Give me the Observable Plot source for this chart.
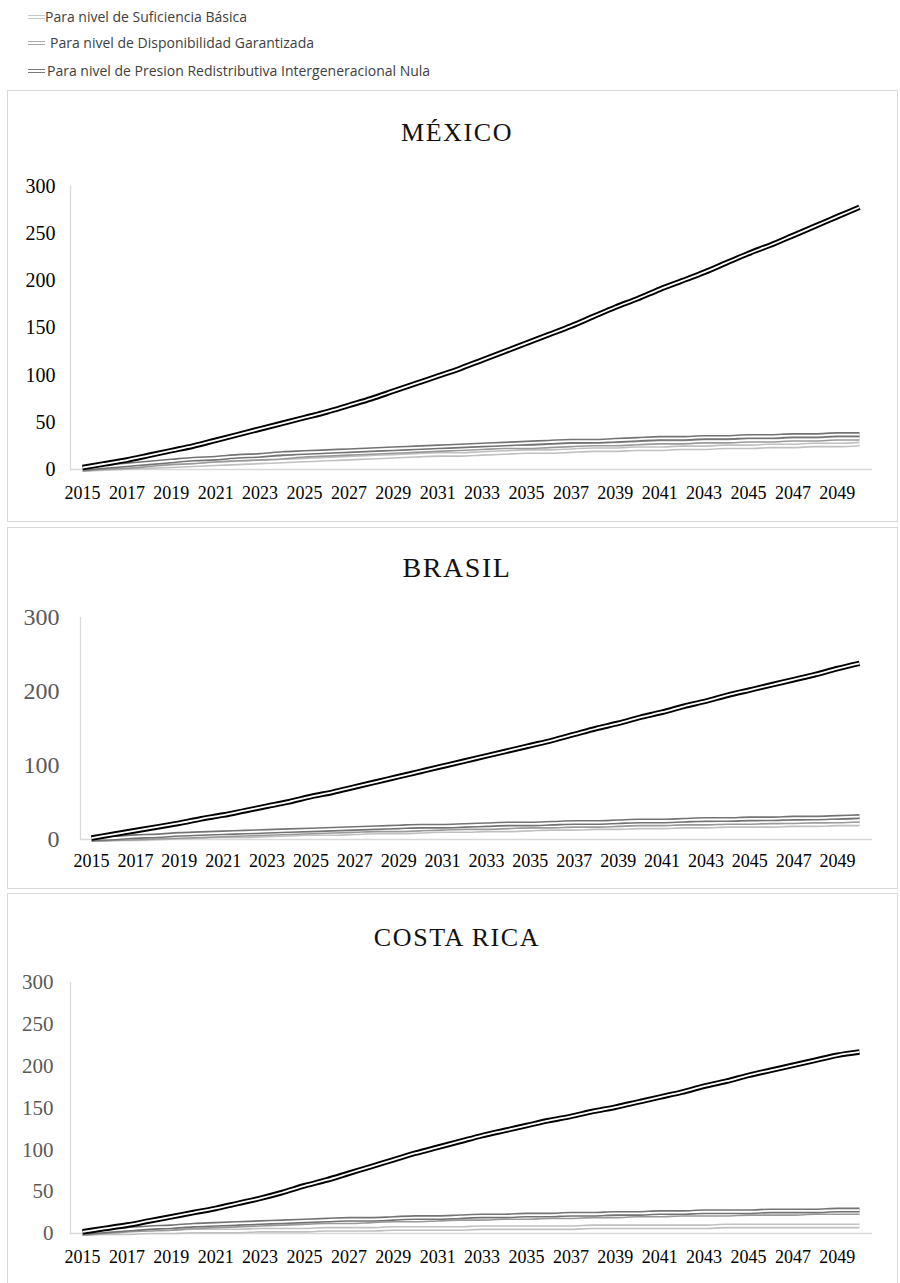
<!DOCTYPE html>
<html><head><meta charset="utf-8">
<script src="https://cdn.jsdelivr.net/npm/d3@7"></script>
<script src="https://cdn.jsdelivr.net/npm/@observablehq/plot@0.6"></script>
<style>
body{margin:0;background:#fff;}
#page{position:relative;width:900px;height:1283px;overflow:hidden;background:#fff;}
.box{position:absolute;border:1.5px solid #d9d9d9;box-sizing:border-box;}
.title{position:absolute;left:0;width:914px;text-align:center;font-family:"Liberation Serif",serif;color:#111;line-height:1;white-space:nowrap;}
.leg{position:absolute;font-family:"Open Sans",sans-serif;font-size:14px;color:#404040;white-space:nowrap;line-height:16px;}
.sw{position:absolute;width:17px;height:1.6px;background:#fff;}
.plot{position:absolute;left:0;}
</style>
</head><body>
<div id="page"></div>
<script>
// ---- data ----
const years = [2015,2016,2017,2018,2019,2020,2021,2022,2023,2024,2025,2026,2027,2028,2029,2030,2031,2032,2033,2034,2035,2036,2037,2038,2039,2040,2041,2042,2043,2044,2045,2046,2047,2048,2049,2050];
const xTickLabels = [2015,2017,2019,2021,2023,2025,2027,2029,2031,2033,2035,2037,2039,2041,2043,2045,2047,2049];
const countries = ["MÉXICO","BRASIL","COSTA RICA"];
const legendNames = ["Para nivel de Suficiencia Básica","Para nivel de Disponibilidad Garantizada","Para nivel de Presion Redistributiva Intergeneracional Nula"];
const yTicksMX = [0,50,100,150,200,250,300];
const yTicksBR = [0,100,200,300];
const yTicksCR = [0,50,100,150,200,250,300];

// México
const mxBasica   = [0,1,2,3,4,5,6,7,8,9,10,11,12,13,14,15,16,16,17,18,19,19,20,21,21,22,22,23,23,24,24,25,25,26,26,27];
const mxGarant   = [0,2,3,5,7,8,10,11,12,13,15,16,17,18,19,20,21,22,23,24,24,25,26,27,27,28,29,29,30,30,31,31,32,32,33,33];
const mxPresion  = [1,3,5,7,9,11,12,14,15,17,18,19,20,21,22,23,24,25,26,27,28,29,30,30,31,32,33,33,34,34,35,35,36,36,37,37];
const mxTotal    = [2,6,10,15,20,25,31,37,43,49,55,61,68,75,83,91,99,107,116,125,134,143,152,162,172,181,191,200,209,219,229,238,248,258,268,278];
// Brasil
const brBasica   = [0,1,1,2,3,4,5,5,6,7,8,8,9,10,10,11,12,12,13,13,14,15,15,16,16,17,17,18,18,19,19,19,20,20,21,21];
const brGarant   = [0,1,2,3,4,5,6,7,8,9,10,11,12,13,13,14,15,16,16,17,18,18,19,19,20,21,21,22,22,23,23,24,24,25,25,26];
const brPresion  = [1,2,4,5,7,8,9,10,11,12,13,14,15,16,17,18,18,19,20,21,21,22,23,23,24,25,25,26,27,27,28,28,29,29,30,31];
const brTotal    = [2,7,12,17,22,28,33,39,45,51,58,64,71,78,85,92,99,106,113,120,127,134,142,150,157,165,172,180,187,195,202,209,216,223,231,238];
// Costa Rica
const crBasica   = [0,1,1,2,2,3,3,3,4,4,4,5,5,5,6,6,6,6,7,7,7,7,7,8,8,8,8,8,8,9,9,9,9,9,9,9];
const crGarant   = [0,2,4,5,6,8,9,10,11,12,13,14,14,15,16,16,17,18,18,19,19,20,20,21,21,22,22,23,23,23,24,24,24,25,25,25];
const crPresion  = [1,3,5,7,8,10,11,12,13,14,15,16,17,17,18,19,19,20,21,21,22,22,23,23,24,24,25,25,26,26,26,27,27,27,28,28];
const crTotal    = [2,6,10,15,20,25,30,36,42,49,57,64,72,80,88,96,103,110,117,123,129,135,140,146,151,157,163,169,176,182,189,195,201,207,213,217];

const seriesColors = ["#c0c0c0","#9a9a9a","#737373","#000000"];
const legendColors = ["#c8c8c8","#a8a8a8","#7a7a7a"];

// ---- layout ----
const page = document.getElementById("page");

// legend
const legTop = [9, 35, 63];
const legTextX = [45, 50, 47];
legendNames.forEach((name, i) => {
  const sw = document.createElement("div");
  sw.className = "sw";
  sw.style.left = "28px";
  sw.style.top = (legTop[i] + 6) + "px";
  sw.style.borderTop = "1.6px solid " + legendColors[i];
  sw.style.borderBottom = "1.6px solid " + legendColors[i];
  page.appendChild(sw);
  const t = document.createElement("div");
  t.className = "leg";
  t.style.left = legTextX[i] + "px";
  t.style.top = legTop[i] + "px";
  t.textContent = name;
  page.appendChild(t);
});

const panels = [
  {name: countries[0], data: [mxBasica, mxGarant, mxPresion, mxTotal], box: [7, 90, 891, 432],
   svgTop: 90, height: 432, mt: 96, mb: 53, ml: 70, il: 12, yTicks: yTicksMX, yFont: 20, yPad: 15, yColor: "#000", xPad: 17,
   titleTop: 120, titleSize: 26},
  {name: countries[1], data: [brBasica, brGarant, brPresion, brTotal], box: [7, 527, 891, 362],
   svgTop: 527, height: 362, mt: 90, mb: 50, ml: 80, il: 11, yTicks: yTicksBR, yFont: 24, yPad: 21, yColor: "#595959", xPad: 15,
   titleTop: 554, titleSize: 28},
  {name: countries[2], data: [crBasica, crGarant, crPresion, crTotal], box: [7, 893, 891, 400],
   svgTop: 893, height: 390, mt: 89, mb: 50, ml: 70, il: 12, yTicks: yTicksCR, yFont: 21, yPad: 17, yColor: "#595959", xPad: 17,
   titleTop: 925, titleSize: 26}
];

panels.forEach(p => {
  const box = document.createElement("div");
  box.className = "box";
  box.style.left = p.box[0] + "px";
  box.style.top = p.box[1] + "px";
  box.style.width = p.box[2] + "px";
  box.style.height = p.box[3] + "px";
  page.appendChild(box);

  const title = document.createElement("div");
  title.className = "title";
  title.style.top = p.titleTop + "px";
  title.style.fontSize = p.titleSize + "px";
  title.style.letterSpacing = "1.6px";
  title.textContent = p.name;
  page.appendChild(title);

  const marks = [
    Plot.ruleY([0], {stroke: "#d9d9d9", strokeWidth: 1.3}),
    Plot.frame({anchor: "left", stroke: "#d9d9d9", strokeWidth: 1.3}),
    Plot.axisY({ticks: p.yTicks, tickSize: 0, tickPadding: p.yPad, fontSize: p.yFont, color: p.yColor, label: null}),
    Plot.axisX({ticks: xTickLabels, tickSize: 0, tickPadding: p.xPad, fontSize: 18, color: "#000", tickFormat: d => String(d), label: null})
  ];
  p.data.forEach((vals, si) => {
    const rows = years.map((yr, i) => ({year: yr, value: vals[i]}));
    const w = si === 3 ? 5.6 : 5;
    marks.push(Plot.line(rows, {x: "year", y: "value", stroke: seriesColors[si], strokeWidth: w, strokeLinecap: "butt", curve: "monotone-x"}));
    marks.push(Plot.line(rows, {x: "year", y: "value", stroke: "#fff", strokeWidth: 1.8, strokeLinecap: "butt", curve: "monotone-x"}));
  });
  const svg = Plot.plot({
    width: 900, height: p.height,
    marginLeft: p.ml, marginRight: 28, marginTop: p.mt, marginBottom: p.mb,
    x: {domain: [2015, 2050], insetLeft: p.il, insetRight: 13},
    y: {domain: [0, 300]},
    style: {fontFamily: "Liberation Serif, serif", background: "transparent", overflow: "visible", color: "#000"},
    marks
  });
  svg.classList.add("plot");
  svg.style.position = "absolute";
  svg.style.left = "0px";
  svg.style.top = p.svgTop + "px";
  page.appendChild(svg);
});
</script>
</body></html>
